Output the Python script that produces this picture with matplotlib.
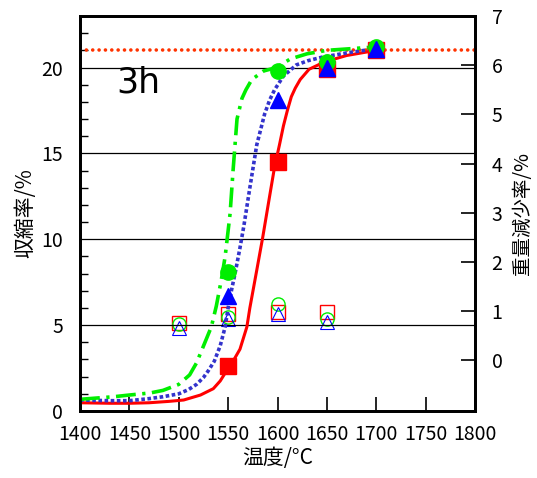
import matplotlib
matplotlib.use("Agg")
import matplotlib.pyplot as plt
from matplotlib.ticker import MultipleLocator

plt.rcParams['font.family'] = ['Noto Sans CJK JP', 'DejaVu Sans']

# measured shrinkage (left axis, %)
temps = [1550, 1600, 1650, 1700]
shrink_red = [2.6, 14.5, 19.9, 21.0]
shrink_blue = [6.7, 18.1, 20.0, 21.1]
shrink_green = [8.1, 19.8, 20.3, 21.2]

# fitted curves
curve_red_t = [1400, 1430, 1450, 1470, 1490, 1505, 1522, 1535, 1542, 1548, 1555, 1562,
               1569, 1572, 1579, 1585, 1592, 1597, 1602, 1606, 1610, 1614, 1618, 1623,
               1632, 1643, 1655, 1670, 1685, 1700]
curve_red_y = [0.48, 0.45, 0.45, 0.48, 0.56, 0.64, 0.93, 1.3, 1.75, 2.3, 2.9, 3.6,
               4.9, 6.0, 8.2, 10.1, 12.5, 14.2, 15.5, 16.6, 17.5, 18.3, 18.8, 19.3,
               19.9, 20.2, 20.45, 20.7, 20.85, 21.0]

curve_blue_t = [1400, 1430, 1450, 1470, 1484, 1500, 1510, 1518, 1525, 1530, 1536, 1542,
                1547, 1550, 1554, 1557, 1562, 1566, 1572, 1579, 1587, 1592, 1597, 1606,
                1619, 1631, 1645, 1670, 1700]
curve_blue_y = [0.64, 0.6, 0.6, 0.72, 0.83, 1.0, 1.25, 1.55, 1.95, 2.35, 2.9, 3.8,
                4.9, 6.0, 7.2, 8.0, 9.5, 10.8, 13.0, 15.5, 17.3, 18.1, 18.7, 19.5,
                20.15, 20.4, 20.6, 20.85, 21.1]

curve_green_t = [1400, 1434, 1450, 1471, 1484, 1500, 1511, 1518, 1528, 1533, 1538, 1543,
                 1547, 1549, 1552, 1555, 1559, 1564, 1568, 1574, 1586, 1599, 1613, 1630,
                 1650, 1675, 1700]
curve_green_y = [0.68, 0.83, 0.93, 1.05, 1.2, 1.55, 2.1, 2.8, 4.2, 4.9, 6.1, 7.6,
                 9.0, 10.0, 11.5, 14.0, 17.0, 18.2, 18.7, 19.3, 19.8, 20.0, 20.5, 20.8,
                 21.0, 21.1, 21.2]

ref_level = 21.0

# weight loss (right axis, %)
loss_temps = [1500, 1550, 1600, 1650]
loss_red = [0.75, 0.94, 0.98, 0.98]
loss_green = [0.73, 0.88, 1.14, 0.84]
loss_blue = [0.65, 0.84, 0.94, 0.77]

fig = plt.figure(figsize=(5.37, 4.78), dpi=100)
ax = fig.add_axes([80 / 537, 67 / 478, 395 / 537, 395 / 478])
ax2 = ax.twinx()

ax.set_zorder(ax2.get_zorder() + 1)
ax.patch.set_visible(False)

for v in [5, 10, 15, 20]:
    ax.axhline(v, color="black", linewidth=0.9, zorder=1)

ax.axhline(ref_level, color="#ff3300", linewidth=2.6, linestyle=(0, (0.01, 1.75)),
           dash_capstyle="round", zorder=2)

ax.plot(curve_red_t, curve_red_y, color="red", linewidth=2.2, zorder=2)
ax.plot(curve_blue_t, curve_blue_y, color="#3333cc", linewidth=2.6,
        linestyle=(0, (1, 0.7)), zorder=2)
ax.plot(curve_green_t, curve_green_y, color="#00ee00", linewidth=2.6,
        linestyle=(0, (5.5, 1.8, 0.9, 1.8)), zorder=2)

ax.plot(temps, shrink_red, "s", color="red", markersize=12, linestyle="none", zorder=3)
ax.plot(temps, shrink_green, "o", color="#00ee00", markersize=11, linestyle="none", zorder=3)
ax.plot(temps, shrink_blue, "^", color="blue", markersize=11, linestyle="none", zorder=3)

ax2.plot(loss_temps, loss_red, "s", markerfacecolor="none", markeredgecolor="red",
         markersize=9.5, markeredgewidth=1.0, linestyle="none")
ax2.plot(loss_temps, loss_green, "o", markerfacecolor="none", markeredgecolor="#00ee00",
         markersize=9.5, markeredgewidth=1.0, linestyle="none")
ax2.plot(loss_temps, loss_blue, "^", markerfacecolor="none", markeredgecolor="blue",
         markersize=9.5, markeredgewidth=0.8, linestyle="none")

ax.set_xlim(1400, 1800)
ax.set_ylim(0, 23)
ax2.set_ylim(-1.03, 7)

ax.set_xticks(range(1400, 1801, 50))
ax.set_yticks([0, 5, 10, 15, 20])
ax.yaxis.set_minor_locator(MultipleLocator(1))
ax2.set_yticks(range(0, 8))

ax.tick_params(axis="x", direction="in", length=10, width=1.2, labelsize=14, pad=9)
ax.tick_params(axis="y", which="major", direction="in", length=0, labelsize=14, pad=12)
ax.tick_params(axis="y", which="minor", direction="in", length=6, width=1)
ax2.tick_params(axis="y", direction="in", length=10, width=1.2, labelsize=14, pad=12)

for a in (ax, ax2):
    for s in a.spines.values():
        s.set_linewidth(2)

ax.text(1437, 19.1, "3h", fontsize=25, family="DejaVu Sans", va="center")

ax.set_xlabel("温度/°C", fontsize=15, labelpad=2)
ax.set_ylabel("収縮率/%", fontsize=15, labelpad=4)
ax2.set_ylabel("重量減少率/%", fontsize=14)
ax2.yaxis.set_label_coords(1.094, 0.5)

fig.savefig("out.png", dpi=100)
